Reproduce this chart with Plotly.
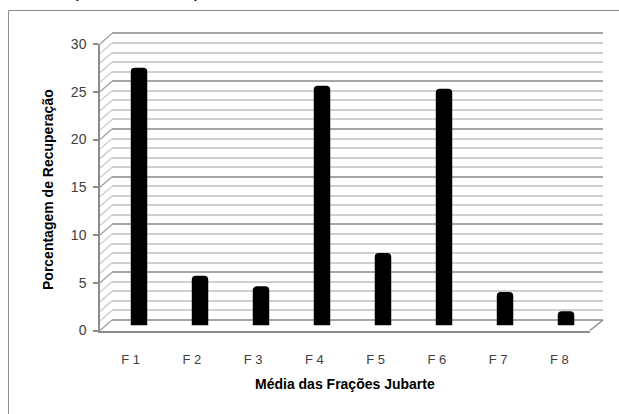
import plotly.graph_objects as go

# Recovery percentage per fraction
categories = ["F 1", "F 2", "F 3", "F 4", "F 5", "F 6", "F 7", "F 8"]
recovery = [27.0, 5.2, 4.1, 25.1, 7.6, 24.8, 3.5, 1.5]
y_ticks = [0, 5, 10, 15, 20, 25, 30]

W, H = 619, 414
YMAX = 30

# pseudo-3D frame: front plane, bar plane (mid depth) and back wall, in pixels
FRONT = dict(x0=100, x1=590, y0=330.5, y30=44)
MID = dict(x0=108.5, x1=596.5, y0=325.5, y30=39)
BACK = dict(x0=112, x1=603, y0=320, y30=33.5)

MAJOR_GRID = "#a6a6a6"
MINOR_GRID = "#d0d0d0"
FRAME = "#8c8c8c"
TEXT = "#404040"


def xdom(p):
    return [p["x0"] / W, p["x1"] / W]


def ydom(p, lo, hi):
    scale = (p["y0"] - p["y30"]) / YMAX
    bottom = p["y0"] - lo * scale
    top = p["y0"] - hi * scale
    return [1 - bottom / H, 1 - top / H]


def ypx(p, v):
    return p["y0"] - v * (p["y0"] - p["y30"]) / YMAX


fig = go.Figure()

no_line = dict(width=0)
# back wall (gridlines only)
fig.add_trace(go.Bar(x=categories, y=recovery, xaxis="x", yaxis="y",
                     marker=dict(color="rgba(0,0,0,0)", line=no_line),
                     hoverinfo="skip", showlegend=False))
# cylinders
fig.add_trace(go.Bar(x=categories, y=recovery, xaxis="x2", yaxis="y2",
                     marker=dict(color="black", cornerradius=4, line=no_line),
                     width=0.27, showlegend=False))
# front axes
fig.add_trace(go.Bar(x=categories, y=recovery, xaxis="x3", yaxis="y3",
                     marker=dict(color="rgba(0,0,0,0)", line=no_line),
                     hoverinfo="skip", showlegend=False))

BLO, BHI = -0.15, 30.15
hidden = dict(showgrid=False, zeroline=False, showticklabels=False,
              ticks="", showline=False, fixedrange=True)

fig.update_layout(
    template="none",
    width=W, height=H, autosize=False,
    margin=dict(l=0, r=0, t=0, b=0),
    paper_bgcolor="white", plot_bgcolor="rgba(0,0,0,0)",
    xaxis=dict(domain=xdom(BACK), range=[-0.5, 7.5], anchor="y", **hidden),
    yaxis=dict(domain=ydom(BACK, BLO, BHI), range=[BLO, BHI], anchor="x",
               showgrid=True, gridcolor=MAJOR_GRID, gridwidth=1.5,
               dtick=5, tick0=0, zeroline=True, zerolinecolor=MAJOR_GRID,
               zerolinewidth=1.5, showticklabels=False, ticks="",
               showline=False,
               minor=dict(dtick=1, tick0=0, showgrid=True, ticks="",
                          gridcolor=MINOR_GRID, gridwidth=1.5)),
    xaxis2=dict(domain=xdom(MID), range=[-0.5, 7.5], anchor="y2", **hidden),
    yaxis2=dict(domain=ydom(MID, 0, YMAX), range=[0, YMAX], anchor="x2",
                **hidden),
    xaxis3=dict(domain=xdom(FRONT), range=[-0.5, 7.5], anchor="y3",
                showgrid=False, zeroline=False, showline=True,
                linecolor=FRAME, linewidth=1.5, ticks="",
                ticklabelstandoff=16,
                tickfont=dict(family="Liberation Sans", size=13, color=TEXT)),
    yaxis3=dict(domain=ydom(FRONT, 0, YMAX), range=[0, YMAX], anchor="x3",
                showgrid=False, zeroline=False, showline=True,
                linecolor=FRAME, linewidth=1.5, ticks="outside", ticklen=5,
                tickcolor=FRAME, tickwidth=1.5, tickvals=y_ticks,
                ticklabelstandoff=4,
                tickfont=dict(family="Liberation Sans", size=14, color=TEXT)),
)

# side wall and floor edges joining the front plane to the back wall
shapes = []
for v in range(0, YMAX + 1):
    shapes.append(dict(
        type="line", xref="paper", yref="paper", layer="below",
        x0=FRONT["x0"] / W, y0=1 - ypx(FRONT, v) / H,
        x1=BACK["x0"] / W, y1=1 - ypx(BACK, v) / H,
        line=dict(color=MAJOR_GRID if v % 5 == 0 else MINOR_GRID, width=1.5)))
shapes.append(dict(
    type="line", xref="paper", yref="paper",
    x0=FRONT["x1"] / W, y0=1 - ypx(FRONT, 0) / H,
    x1=BACK["x1"] / W, y1=1 - ypx(BACK, 0) / H,
    line=dict(color=FRAME, width=1.5)))
# chart area border
shapes.append(dict(type="rect", xref="paper", yref="paper",
                   x0=8.5 / W, y0=-0.02, x1=1.02, y1=1 - 10.5 / H,
                   line=dict(color=FRAME, width=1), fillcolor="rgba(0,0,0,0)"))
fig.update_layout(shapes=shapes)

title_font = dict(family="Liberation Sans", size=14, color="black")
annotations = [
    dict(text="<b>Porcentagem de Recuperação</b>", textangle=-90,
         x=48 / W, y=1 - 190 / H, xref="paper", yref="paper",
         xanchor="center", yanchor="middle",
         showarrow=False, font=title_font),
    dict(text="<b>Média das Frações Jubarte</b>",
         x=345 / W, y=1 - 384 / H, xref="paper", yref="paper",
         xanchor="center", yanchor="middle",
         showarrow=False, font=title_font),
    dict(text="(", x=75 / W, y=1 - 3 / H, xref="paper", yref="paper",
         xanchor="center", yanchor="bottom", showarrow=False,
         font=dict(family="Liberation Sans", size=20, color="black")),
    dict(text=")", x=197 / W, y=1 - 3 / H, xref="paper", yref="paper",
         xanchor="center", yanchor="bottom", showarrow=False,
         font=dict(family="Liberation Sans", size=20, color="black")),
]
fig.update_layout(annotations=annotations)

fig.write_html("out.html")
